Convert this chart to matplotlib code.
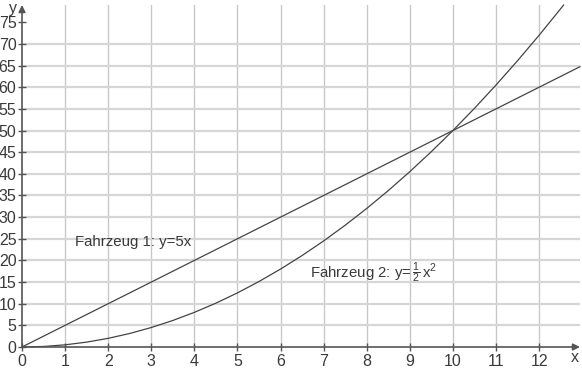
import matplotlib
matplotlib.use("Agg")
import matplotlib.pyplot as plt

# Data
x_line = [0, 12.95]
y_line = [0, 64.75]
x_par = [0, 0.5, 1, 1.5, 2, 2.5, 3, 3.5, 4, 4.5, 5, 5.5, 6, 6.5, 7, 7.5, 8, 8.5,
         9, 9.5, 10, 10.5, 11, 11.5, 12, 12.5, 12.57]
y_par = [0, 0.125, 0.5, 1.125, 2, 3.125, 4.5, 6.125, 8, 10.125, 12.5, 15.125, 18,
         21.125, 24.5, 28.125, 32, 36.125, 40.5, 45.125, 50, 55.125, 60.5, 66.125,
         72, 78.125, 79.0]
x_ticks = list(range(0, 13))
y_ticks = list(range(0, 80, 5))
y_grid = list(range(5, 75, 5))
label1 = "Fahrzeug 1: y=5x"
label2 = r"Fahrzeug 2: y=$\,\frac{1}{2}\,$x$^{2}$"

plt.rcParams['font.family'] = ['Liberation Sans', 'DejaVu Sans']
plt.rcParams['mathtext.fontset'] = 'custom'
plt.rcParams['mathtext.rm'] = 'Liberation Sans'
plt.rcParams['mathtext.it'] = 'Liberation Sans'

fig = plt.figure(figsize=(5.82, 3.70), dpi=100)
W, H = 582, 370
x0, x1 = 22, 580
y0, y1 = 347, 5
ax = fig.add_axes([x0 / W, (H - y0) / H, (x1 - x0) / W, (y0 - y1) / H])
ax.set_xlim(0, 12.95)
ax.set_ylim(0, 79)

txtc = '#3a3a3a'
for s in ax.spines.values():
    s.set_visible(False)

for xv in x_ticks[1:]:
    ax.axvline(xv, color='#c8c8c8', lw=1.0, zorder=1)
for yv in y_grid:
    ax.axhline(yv, color='#d6d6d6', lw=1.6, zorder=1)

ax.set_xticks(x_ticks)
ax.set_yticks(y_ticks)
ax.tick_params(axis='both', direction='inout', length=6, width=1, color='#555555',
               labelsize=11.5, labelcolor=txtc, pad=1)
ax.tick_params(axis='x', pad=2)

ax.plot(x_line, y_line, color='#444444', lw=0.9, zorder=3, clip_on=False)
ax.plot(x_par, y_par, color='#444444', lw=0.9, zorder=3, clip_on=False)

# axes with arrows
ax.annotate('', xy=(1.0, 0), xytext=(0, 0), xycoords='axes fraction',
            arrowprops=dict(arrowstyle='-|>', color='#555555', lw=1.2,
                            mutation_scale=10, shrinkA=0, shrinkB=0), zorder=4)
ax.annotate('', xy=(0, 1.0), xytext=(0, 0), xycoords='axes fraction',
            arrowprops=dict(arrowstyle='-|>', color='#555555', lw=1.2,
                            mutation_scale=10, shrinkA=0, shrinkB=0), zorder=4)

fig.text(575 / W, 1 - 357 / H, 'x', fontsize=11.5, color=txtc, ha='center', va='center')
fig.text(13 / W, 1 - 9 / H, 'y', fontsize=11.5, color=txtc, ha='center', va='center')

ax.text(1.23, 24.2, label1, fontsize=10.8, color=txtc, va='center', ha='left')
ax.text(6.68, 17.1, label2, fontsize=10.8, color=txtc, va='center', ha='left')

fig.savefig('out.png', dpi=100)
